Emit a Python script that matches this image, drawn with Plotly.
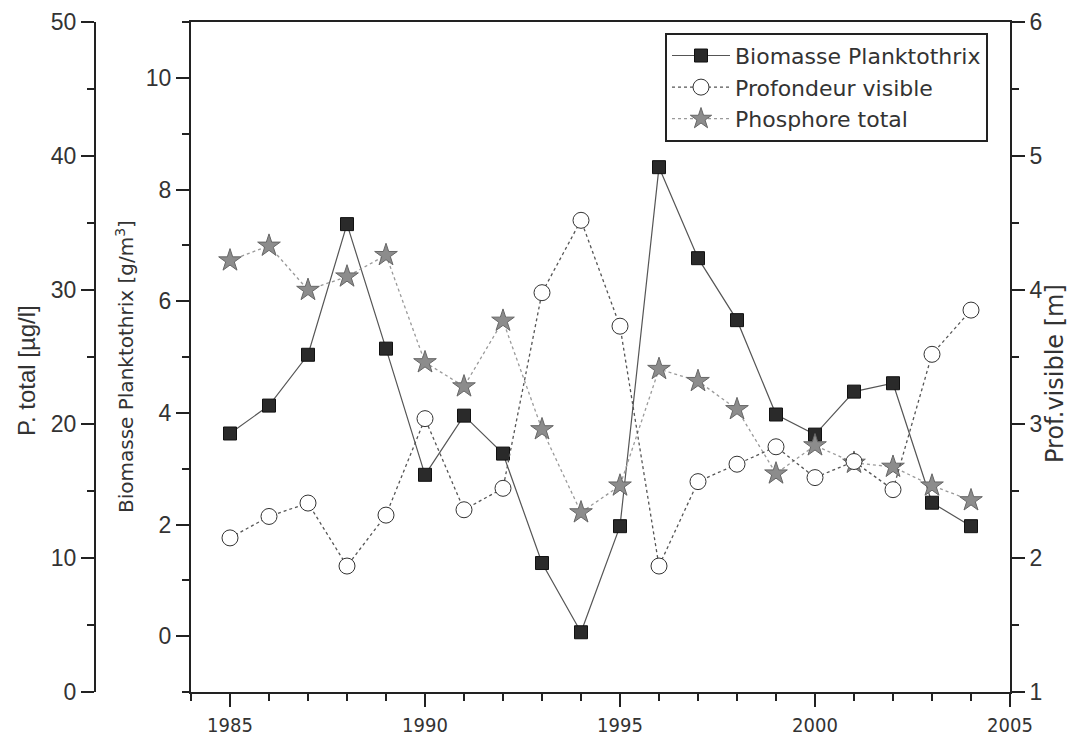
import plotly.graph_objects as go

years = list(range(1985, 2005))
biomasse = [3.63, 4.13, 5.04, 7.38, 5.15, 2.89, 3.95, 3.27, 1.31, 0.07,
            1.97, 8.40, 6.77, 5.66, 3.97, 3.61, 4.38, 4.53, 2.39, 1.97]
profondeur = [2.15, 2.31, 2.41, 1.94, 2.32, 3.04, 2.36, 2.52, 3.98, 4.52,
              3.73, 1.94, 2.57, 2.70, 2.83, 2.60, 2.72, 2.51, 3.52, 3.85]
phosphore = [32.2, 33.3, 30.0, 31.0, 32.6, 24.6, 22.8, 27.7, 19.6, 13.4,
             15.4, 24.1, 23.2, 21.1, 16.3, 18.4, 17.1, 16.8, 15.4, 14.3]

x_ticks = [1985, 1990, 1995, 2000, 2005]

ARIAL = "Liberation Sans, Arial, sans-serif"
TAHOMA = "DejaVu Sans, Verdana, sans-serif"
NARROW = "Liberation Sans Narrow, DejaVu Sans Condensed, Arial Narrow, sans-serif"
AX = "#222222"
TXT = "#333333"

fig = go.Figure()
fig.add_trace(go.Scatter(
    x=years, y=biomasse, name="Biomasse Planktothrix", mode="lines+markers",
    line=dict(color="#555555", width=1.2),
    marker=dict(symbol="square", size=13, color="#2a2a2a", line=dict(color="#111111", width=1)),
    yaxis="y"))
fig.add_trace(go.Scatter(
    x=years, y=profondeur, name="Profondeur visible", mode="lines+markers",
    line=dict(color="#555555", width=1.3, dash="dot"),
    marker=dict(symbol="circle", size=16, color="white", line=dict(color="#333333", width=1)),
    yaxis="y3"))
fig.add_trace(go.Scatter(
    x=years, y=phosphore, name="Phosphore total", mode="lines+markers",
    line=dict(color="#9a9a9a", width=1.3, dash="dot"),
    marker=dict(symbol="star", size=17, color="#8c8c8c", line=dict(color="#666666", width=1)),
    yaxis="y2"))

common = dict(showgrid=False, zeroline=False, showline=True, linecolor=AX, linewidth=2,
              ticks="outside", tickcolor=AX, tickwidth=1.5, ticklen=13, automargin=False)
minor = dict(ticks="outside", ticklen=7, tickcolor=AX, tickwidth=1.5)

# paper: x from 10px to 1010px, y from 692px (0) to 22px (1)
def px(xp):
    return (xp - 10) / 1000.0

def py(yp):
    return (692 - yp) / 670.0

fig.update_layout(
    width=1073, height=740,
    margin=dict(l=10, r=63, t=22, b=48),
    paper_bgcolor="white", plot_bgcolor="white",
    font=dict(family=ARIAL, color=TXT, size=20),
    showlegend=True,
    legend=dict(x=0.655, y=0.984, xanchor="left", yanchor="top",
                bgcolor="white", bordercolor=AX, borderwidth=2,
                font=dict(family=TAHOMA, size=22, color=TXT),
                itemwidth=58, tracegroupgap=0),
    xaxis=dict(domain=[0.181, 1.0], range=[1984, 2005], tickvals=x_ticks,
               mirror=True, ticklabelstandoff=1,
               minor=dict(dtick=1, tick0=1985, **minor),
               tickfont=dict(family=NARROW, size=20, color=TXT),
               **common),
    yaxis=dict(range=[-1, 11], tick0=0, dtick=2, anchor="x", side="left",
               minor=dict(dtick=1, **minor),
               tickfont=dict(size=23),
               **common),
    yaxis2=dict(range=[0, 50], tick0=0, dtick=10, overlaying="y", side="left",
                anchor="free", position=0.085,
                minor=dict(dtick=5, **minor),
                tickfont=dict(size=23),
                **common),
    yaxis3=dict(range=[1, 6], tick0=1, dtick=1, overlaying="y", side="right", anchor="x",
                minor=dict(dtick=0.5, **minor),
                tickfont=dict(size=23),
                **common),
    annotations=[
        dict(text="P. total [µg/l]", xref="paper", yref="paper", x=px(26), y=py(371),
             textangle=-90, showarrow=False, xanchor="center", yanchor="middle",
             font=dict(family=ARIAL, size=24, color=TXT)),
        dict(text="Biomasse Planktothrix [g/m<sup>3</sup>]", xref="paper", yref="paper",
             x=px(125), y=py(367), textangle=-90, showarrow=False,
             xanchor="center", yanchor="middle",
             font=dict(family=TAHOMA, size=20, color=TXT)),
        dict(text="Prof.visible [m]", xref="paper", yref="paper", x=px(1055), y=py(374),
             textangle=-90, showarrow=False, xanchor="center", yanchor="middle",
             font=dict(family=TAHOMA, size=24, color=TXT)),
    ],
)

fig.write_html("out.html")
